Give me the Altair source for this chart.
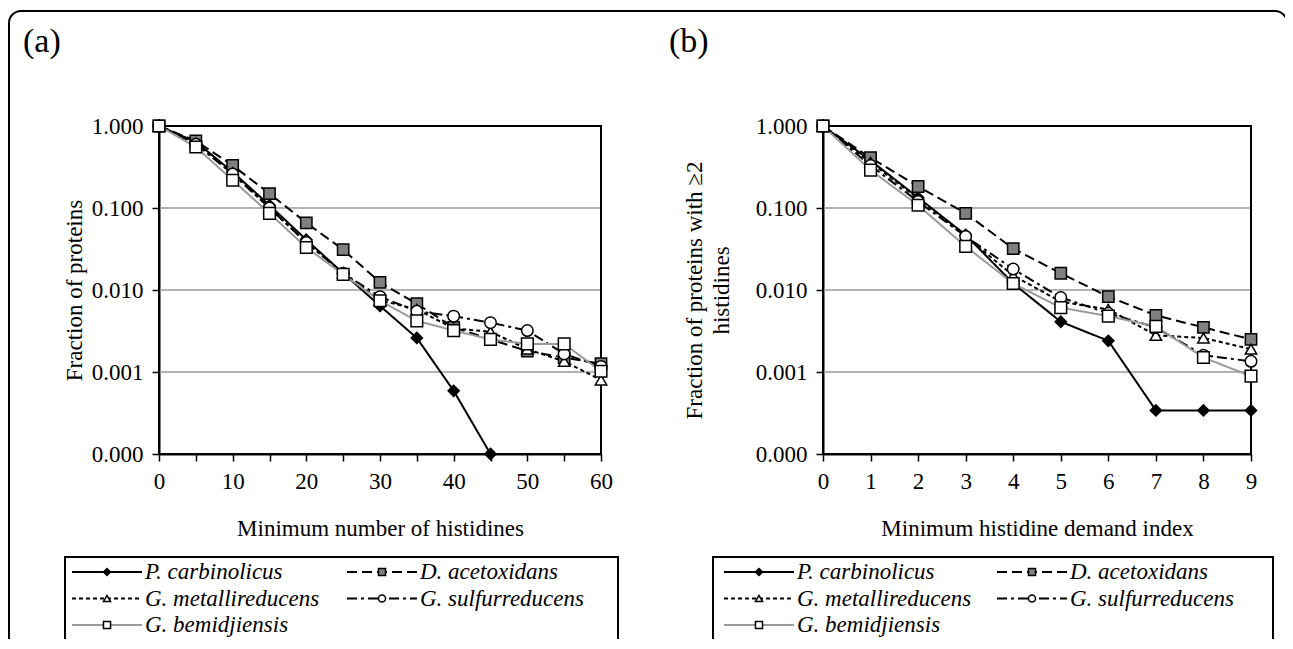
import altair as alt
import pandas as pd

SERIES = ["P. carbinolicus", "D. acetoxidans", "G. metallireducens",
          "G. sulfurreducens", "G. bemidjiensis"]

# ---- panel (a): minimum number of histidines ----
xa = [0, 5, 10, 15, 20, 25, 30, 35, 40, 45, 50, 55, 60]
a_pc = [1.0, 0.64, 0.275, 0.108, 0.041, 0.016, 0.0064, 0.0026, 0.00059, 0.0001]
a_da = [1.0, 0.66, 0.33, 0.15, 0.066, 0.031, 0.0124, 0.0068, 0.0035, 0.0025, 0.0018, 0.0015, 0.00126]
a_gm = [1.0, 0.62, 0.27, 0.10, 0.038, 0.016, 0.0075, 0.0058, 0.0034, 0.0031, 0.0019, 0.00135, 0.0008]
a_gs = [1.0, 0.60, 0.26, 0.10, 0.038, 0.016, 0.0083, 0.0055, 0.0048, 0.0040, 0.0032, 0.00166, 0.00117]
a_gb = [1.0, 0.555, 0.218, 0.086, 0.033, 0.0155, 0.0074, 0.0042, 0.0032, 0.0025, 0.0022, 0.0022, 0.00102]

# ---- panel (b): minimum histidine demand index ----
xb = [0, 1, 2, 3, 4, 5, 6, 7, 8, 9]
b_pc = [1.0, 0.38, 0.134, 0.047, 0.012, 0.0041, 0.0024, 0.00034, 0.00034, 0.00034]
b_da = [1.0, 0.41, 0.183, 0.086, 0.032, 0.016, 0.0083, 0.0049, 0.0035, 0.0025]
b_gm = [1.0, 0.36, 0.13, 0.045, 0.015, 0.0072, 0.0058, 0.0028, 0.0026, 0.0019]
b_gs = [1.0, 0.33, 0.12, 0.045, 0.018, 0.0081, 0.0052, 0.0035, 0.0016, 0.00135]
b_gb = [1.0, 0.29, 0.108, 0.034, 0.012, 0.0061, 0.0048, 0.0036, 0.0015, 0.00089]

y_ticks = [0.0001, 0.001, 0.01, 0.1, 1.0]
grid_vals = [0.1, 0.01, 0.001]
xa_ticks = [0, 5, 10, 15, 20, 25, 30, 35, 40, 45, 50, 55, 60]
xb_ticks = [0, 1, 2, 3, 4, 5, 6, 7, 8, 9]
legend_row = [0, 0, 1, 1, 2]
legend_col = [0, 1, 0, 1, 0]
panel_labels = ["(a)", "(b)"]

FONT = "Liberation Serif"
FS = 23
W, H = 1277, 631
YT, YB = 118, 446


def long_df(xs, cols):
    rows = []
    for name, vals in zip(SERIES, cols):
        for x, v in zip(xs, vals):
            rows.append({"series": name, "x": x, "v": v})
    return pd.DataFrame(rows)


df_a = long_df(xa, [a_pc, a_da, a_gm, a_gs, a_gb])
df_b = long_df(xb, [b_pc, b_da, b_gm, b_gs, b_gb])
df_grid = pd.DataFrame({"v": grid_vals})
df_one = pd.DataFrame({"k": [0]})
df_leg = pd.DataFrame({"series": SERIES, "row": legend_row, "col": legend_col})

color_s = alt.Scale(domain=SERIES, range=["#000000", "#000000", "#000000", "#000000", "#9a9a9a"])
dash_s = alt.Scale(domain=SERIES, range=[[1, 0], [10, 5], [4, 3], [10, 4, 3, 4], [1, 0]])
width_s = alt.Scale(domain=SERIES, range=[2, 2, 1.6, 1.6, 2.2])
shape_s = alt.Scale(domain=SERIES, range=["diamond", "square", "triangle-up", "circle", "square"])
fill_s = alt.Scale(domain=SERIES, range=["#000000", "#808080", "#ffffff", "#ffffff", "#ffffff"])
size_s = alt.Scale(domain=SERIES, range=[125, 135, 110, 80, 150])

AXIS_STYLE = dict(labelFont=FONT, titleFont=FONT, labelFontSize=FS, titleFontSize=FS,
                  labelColor="black", titleColor="black", titleFontWeight="normal",
                  labelFontWeight="normal", tickColor="black", domainColor="black",
                  tickSize=7, tickWidth=1.5, domainWidth=2, labelPadding=9,
                  labelFlush=False, labelOverlap=False, grid=False)


def panel(df, xdom, xr, xticks, label_expr, xtitle, ytitle, ytitle_pad,
          leg_box, leg_cols, leg_rows):
    xs = alt.Scale(domain=xdom, range=xr, nice=False, zero=False)
    ys = alt.Scale(type="log", domain=[1e-4, 1], range=[YB, YT], nice=False)
    xaxis = alt.Axis(orient="bottom", offset=-(H - YB), values=xticks,
                     labelExpr=label_expr, title=xtitle, titlePadding=24, **AXIS_STYLE)
    yaxis = alt.Axis(orient="left", offset=-xr[0], values=y_ticks, format=".3f",
                     title=ytitle, titlePadding=ytitle_pad, titleLineHeight=27, **AXIS_STYLE)

    grid = alt.Chart(df_grid).mark_rule(color="#9a9a9a", strokeWidth=1.6).encode(
        y=alt.Y("v:Q", scale=ys, axis=yaxis),
        x=alt.X(datum=xdom[0], scale=xs, axis=xaxis),
        x2=alt.X2(datum=xdom[1]),
    )
    box = alt.Chart(df_one).mark_rect(fill="transparent", stroke="black", strokeWidth=2).encode(
        x=alt.X(datum=xdom[0], scale=xs, axis=xaxis),
        x2=alt.X2(datum=xdom[1]),
        y=alt.Y(datum=1e-4, scale=ys, axis=yaxis),
        y2=alt.Y2(datum=1.0),
    )
    lines = alt.Chart(df).mark_line().encode(
        x=alt.X("x:Q", scale=xs, axis=xaxis),
        y=alt.Y("v:Q", scale=ys, axis=yaxis),
        color=alt.Color("series:N", scale=color_s, legend=None),
        strokeDash=alt.StrokeDash("series:N", scale=dash_s, legend=None),
        strokeWidth=alt.StrokeWidth("series:N", scale=width_s, legend=None),
        order=alt.Order("x:Q"),
    )
    pts = alt.Chart(df).mark_point(filled=True, opacity=1, stroke="black", strokeWidth=1.5).encode(
        x=alt.X("x:Q", scale=xs, axis=xaxis),
        y=alt.Y("v:Q", scale=ys, axis=yaxis),
        shape=alt.Shape("series:N", scale=shape_s, legend=None),
        fill=alt.Fill("series:N", scale=fill_s, legend=None),
        size=alt.Size("series:N", scale=size_s, legend=None),
    )
    plot = alt.layer(grid, box, lines, pts)

    # legend drawn from the series list
    half = 35.0 / (leg_cols[1] - leg_cols[0])
    lx = alt.Scale(domain=[0, 1], range=leg_cols, nice=False, zero=False)
    ly = alt.Scale(domain=[0, 2], range=leg_rows, nice=False, zero=False)
    base = alt.Chart(df_leg).transform_calculate(
        xl=f"datum.col - {half}", xr=f"datum.col + {half}")
    l_rules = base.mark_rule().encode(
        x=alt.X("xl:Q", scale=lx, axis=None),
        x2="xr:Q",
        y=alt.Y("row:Q", scale=ly, axis=None),
        color=alt.Color("series:N", scale=color_s, legend=None),
        strokeDash=alt.StrokeDash("series:N", scale=dash_s, legend=None),
        strokeWidth=alt.StrokeWidth("series:N", scale=width_s, legend=None),
    )
    l_pts = base.mark_point(filled=True, opacity=1, stroke="black", strokeWidth=1.5, size=50).encode(
        x=alt.X("col:Q", scale=lx, axis=None),
        y=alt.Y("row:Q", scale=ly, axis=None),
        shape=alt.Shape("series:N", scale=shape_s, legend=None),
        fill=alt.Fill("series:N", scale=fill_s, legend=None),
    )
    l_txt = base.mark_text(align="left", baseline="middle", dx=38, font=FONT,
                           fontSize=FS, fontStyle="italic", color="black").encode(
        x=alt.X("col:Q", scale=lx, axis=None),
        y=alt.Y("row:Q", scale=ly, axis=None),
        text="series:N",
    )
    l_box = alt.Chart(df_one).mark_rect(fill="transparent", stroke="black", strokeWidth=2).encode(
        x=alt.value(leg_box[0]), x2=alt.value(leg_box[1]),
        y=alt.value(leg_box[2]), y2=alt.value(leg_box[3]),
    )
    legend = alt.layer(l_box, l_rules, l_pts, l_txt)
    return alt.layer(plot, legend).resolve_scale(x="independent", y="independent")


pa = panel(df_a, [0, 60], [151, 593], xa_ticks,
           "datum.value % 10 === 0 ? datum.label : ''",
           "Minimum number of histidines", "Fraction of proteins", 5,
           [57, 610, 549, 700], [99, 374], [564, 617])
pb = panel(df_b, [0, 9], [815, 1243], xb_ticks, "datum.label",
           "Minimum histidine demand index",
           ["Fraction of proteins with \u22652", "histidines"], 22,
           [705, 1265, 549, 700], [751, 1024], [564, 617])

frame = alt.Chart(df_one).mark_rect(fill="transparent", stroke="black", strokeWidth=2,
                                    cornerRadius=12).encode(
    x=alt.value(1), x2=alt.value(1279), y=alt.value(3), y2=alt.value(720))

lab_a = alt.Chart(pd.DataFrame({"t": [panel_labels[0]]})).mark_text(
    align="left", baseline="alphabetic", font=FONT, fontSize=34, color="black").encode(
    text="t:N", x=alt.value(15), y=alt.value(44))
lab_b = alt.Chart(pd.DataFrame({"t": [panel_labels[1]]})).mark_text(
    align="left", baseline="alphabetic", font=FONT, fontSize=34, color="black").encode(
    text="t:N", x=alt.value(661), y=alt.value(44))

chart = alt.layer(frame, lab_a, lab_b, pa, pb).resolve_scale(
    x="independent", y="independent"
).properties(
    width=W, height=H, padding=0,
    autosize=alt.AutoSizeParams(type="none"),
).configure_view(stroke="transparent").configure_axis(
    labelFont=FONT, titleFont=FONT, labelFontSize=FS, titleFontSize=FS,
    labelColor="black", titleColor="black", titleFontWeight="normal",
)

chart.save("out.html", embed_options={"renderer": "svg", "actions": False})
